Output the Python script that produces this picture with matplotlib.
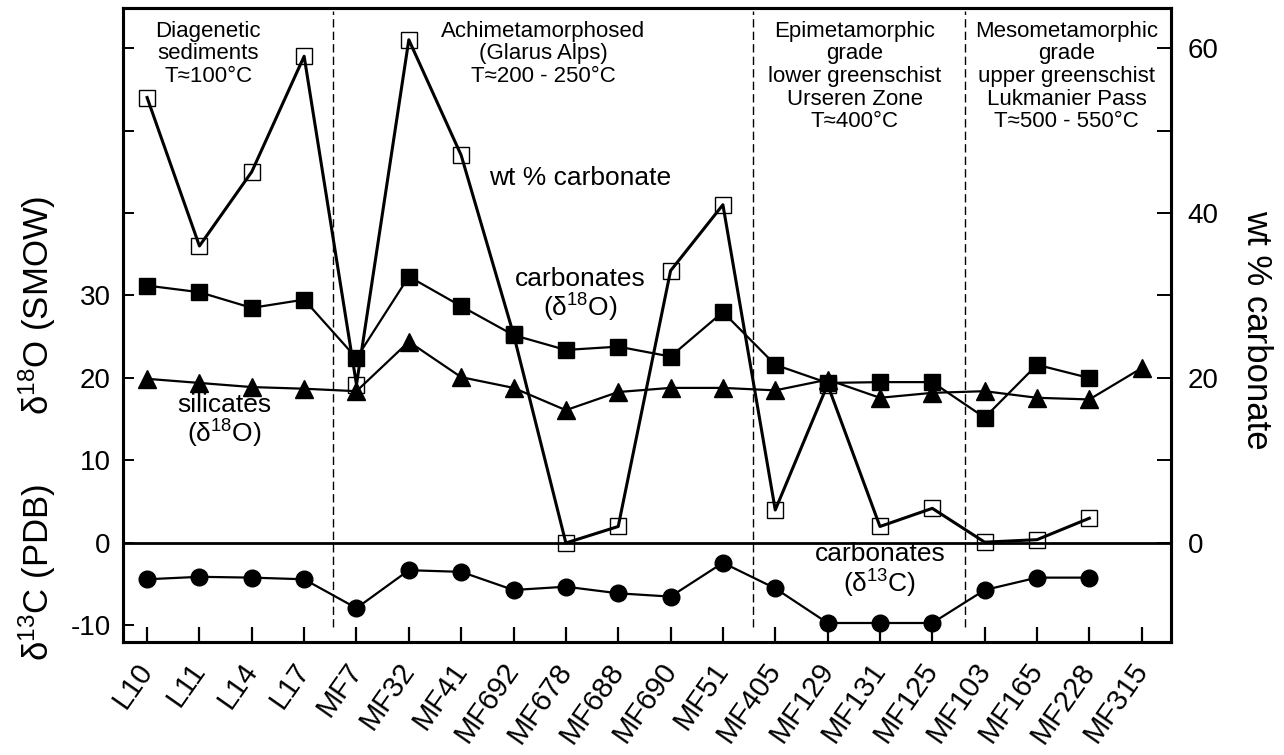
import numpy as np
import matplotlib
matplotlib.use("Agg")
import matplotlib.pyplot as plt
from matplotlib.transforms import ScaledTranslation

plt.rcParams['font.family'] = ['Liberation Sans', 'DejaVu Sans']
plt.rcParams['mathtext.fontset'] = 'custom'
plt.rcParams['mathtext.rm'] = 'Liberation Sans'
plt.rcParams['mathtext.it'] = 'Liberation Sans:italic'
plt.rcParams['mathtext.bf'] = 'Liberation Sans:bold'

# samples along the x axis
samples = ['L10', 'L11', 'L14', 'L17', 'MF7', 'MF32', 'MF41', 'MF692', 'MF678',
           'MF688', 'MF690', 'MF51', 'MF405', 'MF129', 'MF131', 'MF125',
           'MF103', 'MF165', 'MF228', 'MF315']

nan = np.nan
# wt % carbonate (right axis, open squares)
wt_carb = [54, 36, 45, 59, 19.2, 61, 47, 25.3, 0, 2, 33, 41, 4, 19.2, 2, 4.2,
           0.1, 0.4, 3, nan]
# carbonates d18O (filled squares)
carb_d18o = [31.2, 30.4, 28.5, 29.5, 22.4, 32.3, 28.7, 25.2, 23.4, 23.8, 22.6,
             28.0, 21.6, 19.4, 19.5, 19.5, 15.2, 21.6, 20.0, nan]
# silicates d18O (triangles)
sil_d18o = [19.9, 19.4, 18.9, 18.7, 18.4, 24.4, 20.1, 18.8, 16.1, 18.3, 18.8,
            18.8, 18.5, 19.8, 17.6, 18.2, 18.4, 17.6, 17.4, 21.2]
# carbonates d13C (circles)
carb_d13c = [-4.4, -4.1, -4.2, -4.4, -7.9, -3.3, -3.5, -5.7, -5.3, -6.1, -6.5,
             -2.4, -5.5, -9.7, -9.7, -9.7, -5.7, -4.2, -4.2, nan]

left_ticks = [-10, 0, 10, 20, 30, 40, 50, 60]
left_labels = ['-10', '0', '10', '20', '30', '', '', '']
right_ticks = [0, 10, 20, 30, 40, 50, 60]
right_labels = ['0', '', '20', '', '40', '', '60']

# metamorphic zone boundaries (between samples)
zone_bounds = [3.55, 11.58, 15.63]
zone_text = ['Diagenetic\nsediments\nT≈100°C',
             'Achimetamorphosed\n(Glarus Alps)\nT≈200 - 250°C',
             'Epimetamorphic\ngrade\nlower greenschist\nUrseren Zone\nT≈400°C',
             'Mesometamorphic\ngrade\nupper greenschist\nLukmanier Pass\nT≈500 - 550°C']
zone_x = [1.17, 7.57, 13.52, 17.57]

x = np.arange(len(samples))
ylim = (-12.0, 64.85)

fig = plt.figure(figsize=(12.84, 7.55), dpi=100)
ax = fig.add_axes([0.0958, 0.1497, 0.8162, 0.8397])
ax2 = ax.twinx()
ax.set_zorder(ax2.get_zorder() + 1)
ax.patch.set_visible(False)

# wt % carbonate on the right axis (drawn underneath)
ax2.plot(x, wt_carb, color='black', lw=2.2, marker='s', ms=11,
         mfc='none', mec='black', mew=1.0)

# isotope series on the left axis
ax.plot(x, carb_d18o, color='black', lw=1.6, marker='s', ms=12)
ax.plot(x, sil_d18o, color='black', lw=1.6, marker='^', ms=13)
ax.plot(x, carb_d13c, color='black', lw=1.6, marker='o', ms=12)

ax.axhline(0, color='black', lw=2)
ax.vlines(zone_bounds, -10.2, 64.5, colors='black', linestyles=(0, (6, 3)), lw=1)

for xt, t in zip(zone_x, zone_text):
    ax.text(xt, 63.3, t, ha='center', va='top', fontsize=16, linespacing=1.1)

ax.text(8.27, 44.2, 'wt % carbonate', ha='center', va='center', fontsize=19)
ax.text(8.27, 30.0, 'carbonates\n(δ$^{18}$O)', ha='center', va='center',
        fontsize=19, linespacing=1.05)
ax.text(1.47, 14.7, 'silicates\n(δ$^{18}$O)', ha='center', va='center',
        fontsize=19, linespacing=1.05)
ax.text(14.0, -3.4, 'carbonates\n(δ$^{13}$C)', ha='center', va='center',
        fontsize=19, linespacing=1.05)

ax.set_xlim(-0.46, 19.56)
ax.set_ylim(*ylim)
ax2.set_ylim(*ylim)

ax.set_xticks(x)
ax.set_xticklabels(samples, rotation=55, ha='right', va='center',
                   rotation_mode='anchor', fontsize=21)
for lab in ax.get_xticklabels():
    lab.set_transform(lab.get_transform() +
                      ScaledTranslation(0.22, 0, fig.dpi_scale_trans))

ax.set_yticks(left_ticks)
ax.set_yticklabels(left_labels, fontsize=20)
ax2.set_yticks(right_ticks)
ax2.set_yticklabels(right_labels, fontsize=20)

ax.tick_params(axis='x', direction='in', length=11, width=1.6, pad=17)
ax.tick_params(axis='y', direction='in', length=8, width=1.4, pad=9)
ax2.tick_params(axis='y', direction='in', length=10, width=1.4, pad=12)

for a in (ax, ax2):
    for s in a.spines.values():
        s.set_linewidth(2.2)

fig.text(0.029, 0.596, 'δ$^{18}$O (SMOW)', rotation=90, ha='center',
         va='center', fontsize=25)
fig.text(0.029, 0.242, 'δ$^{13}$C (PDB)', rotation=90, ha='center',
         va='center', fontsize=25)
fig.text(0.979, 0.563, 'wt % carbonate', rotation=-90, ha='center',
         va='center', fontsize=25)

fig.savefig('out.png', dpi=100)
